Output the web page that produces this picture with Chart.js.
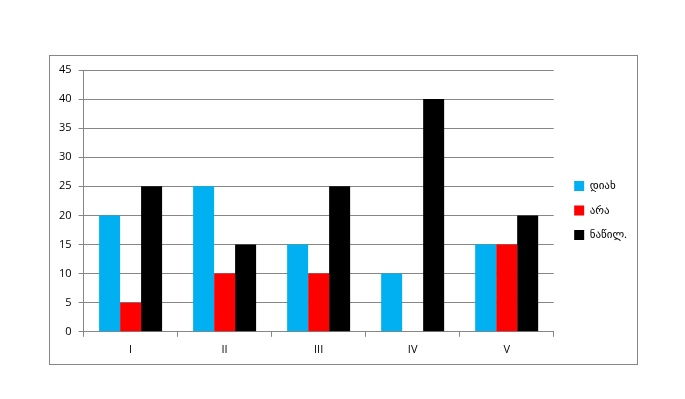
<!DOCTYPE html>
<html>
<head>
<meta charset="utf-8">
<script src="https://cdn.jsdelivr.net/npm/chart.js@4"></script>
<style>
html, body { margin: 0; padding: 0; background: #fff; }
#wrap { width: 685px; height: 399px; }
</style>
</head>
<body>
<div id="wrap"><canvas id="chart" width="685" height="399"></canvas></div>
<script>
var labels = ["I", "II", "III", "IV", "V"];
var yesData = [20, 25, 15, 10, 15];
var noData = [5, 10, 10, 0, 15];
var partData = [25, 15, 25, 40, 20];
var yTicks = [0, 5, 10, 15, 20, 25, 30, 35, 40, 45];

// outer frame around the whole chart
var frame = {
    id: 'frame',
    beforeDraw: function (chart) {
        var ctx = chart.ctx;
        ctx.save();
        ctx.fillStyle = '#fff';
        ctx.fillRect(0, 0, chart.width, chart.height);
        ctx.strokeStyle = '#868686';
        ctx.lineWidth = 1;
        ctx.strokeRect(49.5, 55.5, 588, 309);
        ctx.restore();
    }
};

// empty axes used only as spacers around the plot area
function spacer(pos, size) {
    return {
        type: 'linear',
        position: pos,
        display: true,
        grid: { display: false },
        border: { display: false },
        ticks: { display: false },
        afterFit: function (axis) {
            if (pos === 'top') axis.height = size; else axis.width = size;
        }
    };
}

Chart.defaults.font.family = "'Open Sans', 'DejaVu Sans', sans-serif";
Chart.defaults.font.size = 11;
Chart.defaults.color = '#000';

var myChart = new Chart(document.getElementById('chart').getContext('2d'), {
    type: 'bar',
    data: {
        labels: labels,
        datasets: [{
            label: 'დიახ',
            data: yesData,
            backgroundColor: '#00B0F0'
        }, {
            label: 'არა',
            data: noData,
            backgroundColor: '#FF0000'
        }, {
            label: 'ნაწილ.',
            data: partData,
            backgroundColor: '#000000'
        }]
    },
    options: {
        responsive: false,
        animation: false,
        layout: { padding: { left: 52, top: 59, right: 48, bottom: 37 } },
        datasets: { bar: { categoryPercentage: 0.67, barPercentage: 1.0 } },
        plugins: {
            legend: {
                position: 'right',
                labels: { boxWidth: 10, boxHeight: 10, padding: 13.5, font: { size: 11 } }
            },
            tooltip: { enabled: false }
        },
        scales: {
            x: {
                grid: { drawOnChartArea: false, offset: true, color: '#868686', tickLength: 5 },
                border: { color: '#868686' },
                ticks: { padding: 6 }
            },
            y: {
                min: 0,
                max: 45,
                afterBuildTicks: function (axis) {
                    axis.ticks = yTicks.map(function (v) { return { value: v }; });
                },
                grid: { color: '#868686', tickLength: 5 },
                border: { color: '#868686' },
                ticks: { padding: 7 }
            },
            xTop: Object.assign(spacer('top', 11), { axis: 'x' }),
            yRight: Object.assign(spacer('right', 7), { axis: 'y' })
        }
    },
    plugins: [frame]
});
</script>
</body>
</html>
